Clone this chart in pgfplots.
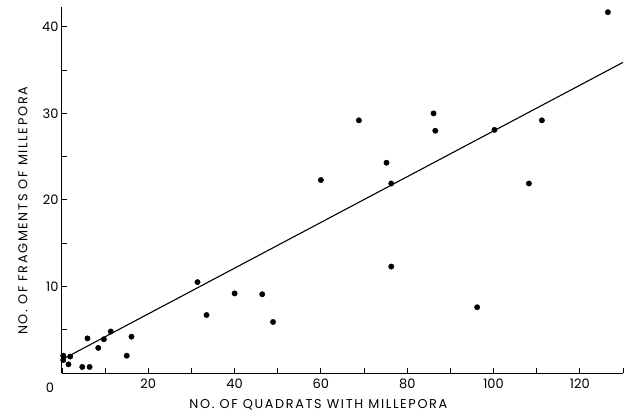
\documentclass[border=0pt]{standalone}
\usepackage{pgfplots}
\pgfplotsset{compat=1.18}
\usepackage{fontspec}
\setmainfont{Poppins}
\newfontfamily\labfont[LetterSpace=13]{Poppins}
\begin{document}
\begin{tikzpicture}
\path[use as bounding box] (-62pt,-42pt) rectangle (569pt,373pt);
\begin{axis}[
  scale only axis,
  width=561pt, height=366pt,
  at={(0pt,0pt)}, anchor=south west,
  xmin=0, xmax=130, ymin=0, ymax=42.3,
  axis x line*=bottom, axis y line*=left,
  axis line style={line width=1pt, -},
  tick align=inside,
  tick style={line width=0.9pt, black},
  major tick length=5pt,
  xtick={0,10,...,130},
  xticklabels={,,20,,40,,60,,80,,100,,120,},
  ytick={0,5,...,40},
  yticklabels={,,10,,20,,30,,40},
  /pgf/number format/assume math mode=true,
  ticklabel style={font=\fontsize{13}{15}\selectfont},
  xticklabel style={yshift=-2pt},
  xlabel={\labfont NO. OF QUADRATS WITH MILLEPORA},
  ylabel={\labfont NO. OF FRAGMENTS OF MILLEPORA},
  label style={font=\fontsize{12.8}{15}\selectfont},
  xlabel style={at={(axis description cs:0.457,-0.0874)}, anchor=center},
  ylabel style={at={(axis description cs:-0.0695,0.443)}, anchor=center},
  clip=false,
]
\pgfplotsinvokeforeach{10,20,...,130}{\draw[line width=0.9pt, black] (axis cs:#1,0) -- ++(0pt,4.5pt);}
\pgfplotsinvokeforeach{5,10,...,40}{\draw[line width=0.9pt, black] (axis cs:0,#1) -- ++(5pt,0pt);}
\addplot[only marks, mark=*, mark size=2.7pt, black] coordinates {
(0.3,2.0) (0.3,1.5) (1.9,1.9) (1.5,1.0) (4.7,0.7) (6.4,0.7) (5.9,4.0)
(8.4,2.9) (9.7,3.9) (11.3,4.8) (15.0,2.0) (16.1,4.2)
(31.4,10.5) (33.5,6.7) (40.0,9.2) (46.4,9.1) (48.9,5.9)
(60.0,22.3) (68.8,29.2) (75.2,24.3) (76.3,21.9) (76.3,12.3)
(86.1,30.0) (86.5,28.0) (96.2,7.6) (100.2,28.1) (108.2,21.9)
(111.2,29.2) (126.5,41.7)
};
\addplot[black, line width=1.1pt] coordinates {(0,1.55) (130,35.9)};
\node[font=\fontsize{13}{15}\selectfont] at ([shift={(-12pt,-15pt)}]rel axis cs:0,0) {0};
\end{axis}
\end{tikzpicture}
\end{document}
